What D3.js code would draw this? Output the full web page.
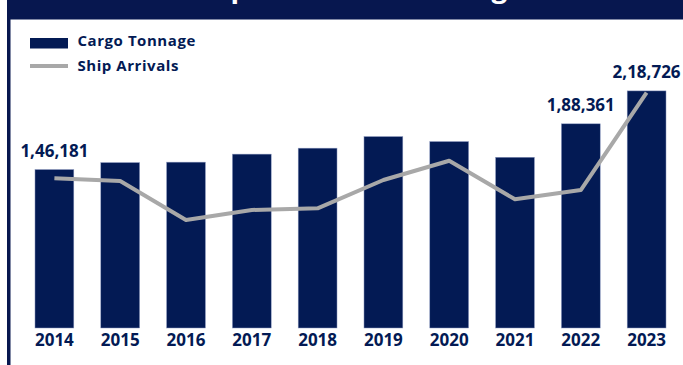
<!DOCTYPE html>
<html>
<head>
<meta charset="utf-8">
<script src="https://cdn.jsdelivr.net/npm/d3@7/dist/d3.min.js"></script>
<style>
  html, body { margin: 0; padding: 0; background: #ffffff; }
  svg { display: block; }
  text { font-family: "Open Sans", "DejaVu Sans", sans-serif; font-weight: 700; }
</style>
</head>
<body>
<svg id="chart" width="683" height="365"></svg>
<script>
// Yearly port traffic
const years = ["2014", "2015", "2016", "2017", "2018", "2019", "2020", "2021", "2022", "2023"];
const cargoTonnage = [146181, 152600, 153000, 160400, 165900, 176600, 172000, 157500, 188361, 218726];
const shipArrivals = [2881, 2856, 2496, 2589, 2604, 2865, 3043, 2687, 2773, 3671];
const labelledYears = ["2014", "2022", "2023"];
const seriesNames = ["Cargo Tonnage", "Ship Arrivals"];
const titleText = "Port Shipments and Tonnage Trend";

const NAVY = "#031a54";
const HEADER = "#07174f";
const GREY = "#a8a8a8";

const svg = d3.select("#chart");
const W = 683, H = 365;

// header band and left rule
svg.append("rect").attr("x", 7).attr("y", 0).attr("width", W - 7).attr("height", 19.5).attr("fill", HEADER);
svg.append("rect").attr("x", 7).attr("y", 19).attr("width", 3.5).attr("height", H - 19).attr("fill", HEADER);
svg.append("text")
  .attr("x", 121).attr("y", -3.5)
  .attr("fill", "#ffffff")
  .attr("font-size", 28)
  .text(titleText);

// scales
const x = d3.scaleBand().domain(years).range([21.5, 679.5]).paddingInner(0.41).paddingOuter(0.205);
const y = d3.scaleLinear().domain([0, 250000]).range([328, 57]);
const y2 = d3.scaleLinear().domain([1500, 4000]).range([328, 57]);

// bars
svg.append("g").selectAll("rect")
  .data(years)
  .join("rect")
  .attr("x", d => x(d))
  .attr("y", (d, i) => y(cargoTonnage[i]))
  .attr("width", x.bandwidth())
  .attr("height", (d, i) => y(0) - y(cargoTonnage[i]))
  .attr("fill", NAVY)
  .attr("stroke", "#8d9ac0")
  .attr("stroke-width", 0.5);

// ship arrivals line
const line = d3.line()
  .x((d, i) => x(years[i]) + x.bandwidth() / 2)
  .y(d => y2(d));
svg.append("path")
  .datum(shipArrivals)
  .attr("d", line)
  .attr("fill", "none")
  .attr("stroke", GREY)
  .attr("stroke-width", 4)
  .attr("stroke-linejoin", "round");

// value labels (Indian digit grouping)
const fmtIN = v => {
  const s = String(Math.round(v));
  if (s.length <= 3) return s;
  const last3 = s.slice(-3);
  let rest = s.slice(0, -3);
  const parts = [];
  while (rest.length > 2) { parts.unshift(rest.slice(-2)); rest = rest.slice(0, -2); }
  if (rest.length) parts.unshift(rest);
  return parts.join(",") + "," + last3;
};
svg.append("g").selectAll("text")
  .data(years.map((yr, i) => ({ yr, v: cargoTonnage[i] })).filter(d => labelledYears.includes(d.yr)))
  .join("text")
  .attr("x", d => x(d.yr) + x.bandwidth() / 2)
  .attr("y", d => y(d.v) - 12.5)
  .attr("text-anchor", "middle")
  .attr("font-size", 17)
  .attr("fill", NAVY)
  .text(d => fmtIN(d.v));

// year axis
const xAxis = svg.append("g")
  .attr("transform", `translate(0,${y(0)})`)
  .call(d3.axisBottom(x).tickSize(0).tickPadding(6));
xAxis.select(".domain").remove();
xAxis.selectAll("text")
  .attr("font-size", 17)
  .attr("font-family", "'Open Sans', sans-serif")
  .attr("font-weight", 700)
  .attr("fill", NAVY)
  .attr("dy", "0.71em");

// legend
const legend = svg.append("g");
legend.append("rect").attr("x", 30).attr("y", 38).attr("width", 38).attr("height", 10.5).attr("fill", NAVY);
legend.append("line").attr("x1", 30).attr("x2", 68).attr("y1", 66).attr("y2", 66)
  .attr("stroke", GREY).attr("stroke-width", 4);
legend.selectAll("text")
  .data(seriesNames)
  .join("text")
  .attr("x", 77.5)
  .attr("y", (d, i) => 46 + i * 24.5)
  .attr("font-size", 15)
  .attr("letter-spacing", 0.55)
  .attr("fill", NAVY)
  .text(d => d);
</script>
</body>
</html>
